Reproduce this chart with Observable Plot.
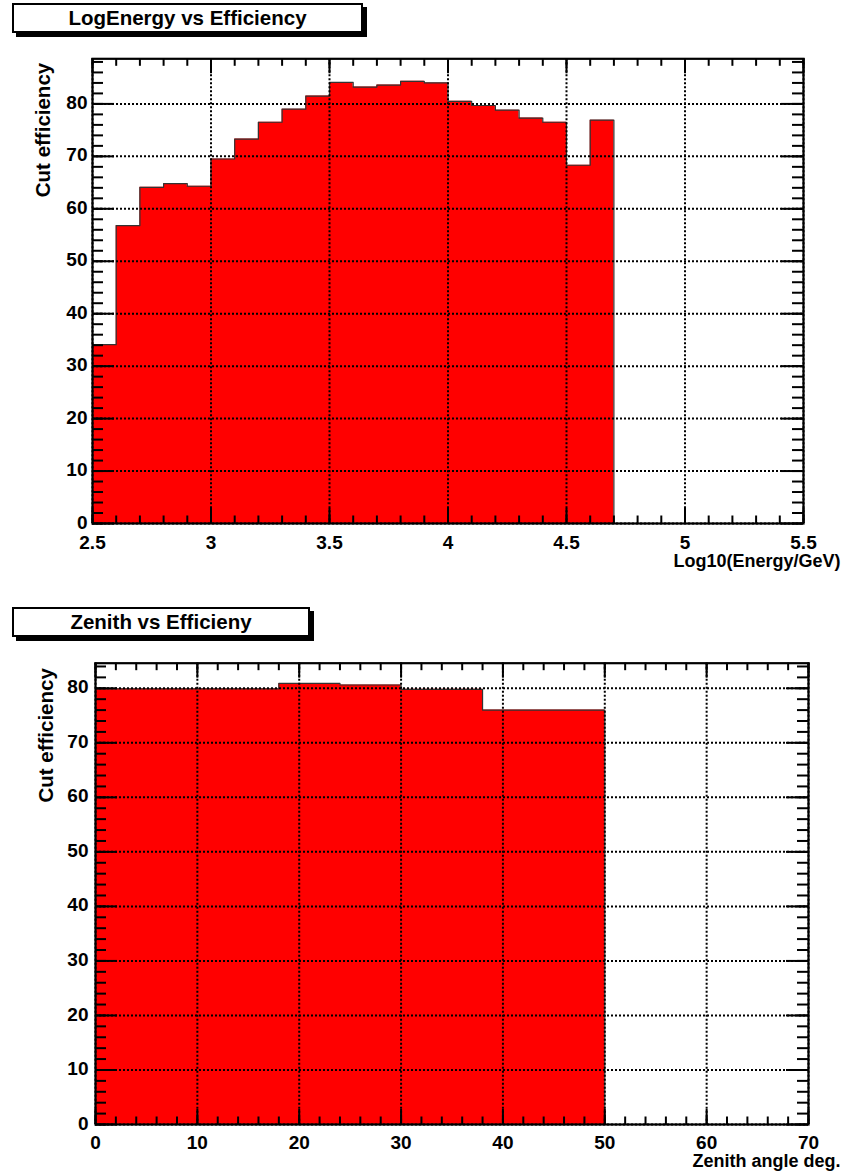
<!DOCTYPE html>
<html><head><meta charset="utf-8">
<script src="https://cdn.jsdelivr.net/npm/d3@7"></script>
<script src="https://cdn.jsdelivr.net/npm/@observablehq/plot@0.6"></script>
<style>
body{margin:0;background:#fff;font-family:"Liberation Sans",Arial,sans-serif;}
#wrap{position:relative;width:850px;height:1173px;overflow:hidden;}
.title{position:absolute;box-sizing:border-box;border:2px solid #000;background:#fff;box-shadow:4px 4px 0 #000;font-weight:bold;font-size:20.5px;text-align:center;line-height:26px;color:#000;}
svg{display:block}
</style></head><body>
<div id="wrap"><div id="c1"></div><div id="c2"></div>
<div class="title" style="left:12px;top:3px;width:351px;height:30px;">LogEnergy vs Efficiency</div>
<div class="title" style="left:12px;top:607px;width:298px;height:30px;">Zenith vs Efficieny</div>
</div>
<script>
// ---- data: LogEnergy vs Efficiency ----
const energyEdges = [2.5,2.6,2.7,2.8,2.9,3.0,3.1,3.2,3.3,3.4,3.5,3.6,3.7,3.8,3.9,4.0,4.1,4.2,4.3,4.4,4.5,4.6,4.7];
const energyEff = [34.1,56.8,64.1,64.8,64.3,69.5,73.3,76.5,79.0,81.5,84.1,83.2,83.6,84.3,84.0,80.5,79.7,78.8,77.3,76.5,68.3,76.9];
const energyTicks = [2.5,3,3.5,4,4.5,5,5.5];
const energyLabel = "Log10(Energy/GeV)";
// ---- data: Zenith vs Efficiency ----
const zenithEdges = [0,18,24,30,38,50];
const zenithEff = [79.9,80.9,80.6,79.8,76.0];
const zenithTicks = [0,10,20,30,40,50,60,70];
const zenithLabel = "Zenith angle deg.";
// shared
const effTicks = [0,10,20,30,40,50,60,70,80];
const effLabel = "Cut efficiency";

function histChart(o){
  const W = 850 - o.ml - o.mr, H = o.height - o.mt - o.mb;
  const n = o.eff.length;
  const steps = [...o.eff.map((v,i)=>({x:o.edges[i],y:v})), {x:o.edges[n],y:o.eff[n-1]}];
  const outline = [...steps, {x:o.edges[n],y:0}];
  const grid = {stroke:"#000", strokeOpacity:1, strokeWidth:2, strokeDasharray:"2,2"};
  const tk = {stroke:"#000", strokeWidth:2};
  return Plot.plot({
    width:850, height:o.height,
    marginLeft:o.ml, marginRight:o.mr, marginTop:o.mt, marginBottom:o.mb,
    style:{fontFamily:"'Liberation Sans', Arial, sans-serif", fontWeight:"bold", fontSize:"19px", background:"#fff", color:"#000"},
    x:{domain:o.xDomain},
    y:{domain:o.yDomain},
    marks:[
      Plot.areaY(steps,{x:"x",y:"y",curve:"step-after",fill:"#ff0000"}),
      Plot.line(outline,{x:"x",y:"y",curve:"step-after",stroke:"#333",strokeWidth:1.2}),
      Plot.gridX(o.xTicks,grid),
      Plot.gridY(o.yTicks,grid),
      // inner ticks, bottom and top
      Plot.tickX(o.xMinor,{x:d=>d, insetTop:H-7.5, ...tk}),
      Plot.tickX(o.xTicks,{x:d=>d, insetTop:H-15, ...tk}),
      Plot.tickX(o.xMinor,{x:d=>d, insetBottom:H-7.5, ...tk}),
      Plot.tickX(o.xTicks,{x:d=>d, insetBottom:H-15, ...tk}),
      // inner ticks, left and right
      Plot.tickY(o.yMinor,{y:d=>d, insetRight:W-11, ...tk}),
      Plot.tickY(o.yTicks,{y:d=>d, insetRight:W-22, ...tk}),
      Plot.tickY(o.yMinor,{y:d=>d, insetLeft:W-11, ...tk}),
      Plot.tickY(o.yTicks,{y:d=>d, insetLeft:W-22, ...tk}),
      Plot.frame({stroke:"#000", strokeWidth:2.2}),
      Plot.axisX(o.xTicks,{tickSize:0, tickPadding:o.xPad, tickFormat:d=>String(d), label:null}),
      Plot.axisY(o.yTicks,{tickSize:0, tickPadding:o.yPad, tickFormat:d=>String(d), label:null, dy:-1}),
      Plot.text([o.yLabel],{text:d=>d, frameAnchor:"top-left", rotate:-90, textAnchor:"end", dx:o.yLabX-o.ml, dy:o.yLabTop, fontSize:20.5, fontWeight:"bold"}),
      Plot.text([o.xLabel],{text:d=>d, frameAnchor:"bottom-right", textAnchor:"end", lineAnchor:"top", dx:o.xLabDx, dy:o.xLabDy, fontSize:18, fontWeight:"bold"})
    ]
  });
}

document.getElementById("c1").append(histChart({
  height:590, ml:92, mr:47, mt:58.3, mb:67,
  edges:energyEdges, eff:energyEff,
  xDomain:[2.5,5.5], yDomain:[0,88.6],
  xTicks:energyTicks, xMinor:d3.range(25,56).map(d=>d/10),
  yTicks:effTicks, yMinor:d3.range(0,89,2),
  xPad:12, yPad:5,
  yLabel:effLabel, yLabX:35, yLabTop:4,
  xLabel:energyLabel, xLabDx:37, xLabDy:31
}));
document.getElementById("c2").append(histChart({
  height:583, ml:95, mr:42, mt:72.7, mb:49,
  edges:zenithEdges, eff:zenithEff,
  xDomain:[0,70], yDomain:[0,84.6],
  xTicks:zenithTicks, xMinor:d3.range(0,71,2),
  yTicks:effTicks, yMinor:d3.range(0,85,2),
  xPad:11, yPad:7,
  yLabel:effLabel, yLabX:38, yLabTop:5,
  xLabel:zenithLabel, xLabDx:32, xLabDy:30
}));
</script>
</body></html>
